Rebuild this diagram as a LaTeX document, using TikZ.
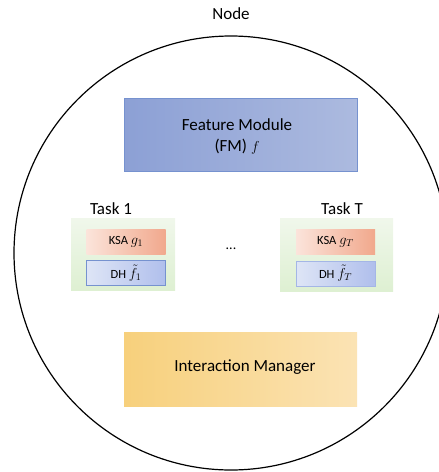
\documentclass[tikz,border=0pt]{standalone}
\usepackage{fontspec}
\setmainfont{Carlito}
\definecolor{fmL}{RGB}{140,160,213}
\definecolor{fmR}{RGB}{172,186,223}
\definecolor{fmB}{RGB}{118,146,207}
\definecolor{imL}{RGB}{247,208,124}
\definecolor{imR}{RGB}{251,227,180}
\definecolor{grT}{RGB}{240,247,235}
\definecolor{grB}{RGB}{222,240,210}
\definecolor{ksL}{RGB}{251,228,219}
\definecolor{ksR}{RGB}{241,168,140}
\definecolor{dhL}{RGB}{222,229,246}
\definecolor{dhR}{RGB}{176,191,236}
\newcommand{\mymath}[1]{{\fontsize{14}{16}\selectfont$#1$}}
\tikzset{
  bigbox/.style={rectangle, inner sep=0pt, font=\fontsize{17}{21}\selectfont, align=center},
  taskbox/.style={rectangle, inner sep=0pt, top color=grT, bottom color=grB, draw=none},
  ksabox/.style={rectangle, inner sep=0pt, left color=ksL, right color=ksR, draw=none, minimum width=79pt, minimum height=25pt, font=\fontsize{12.5}{14}\selectfont},
  dhbox/.style={rectangle, inner sep=0pt, left color=dhL, right color=dhR, draw=fmB, line width=0.6pt, minimum width=79pt, minimum height=25pt, font=\fontsize{12.5}{14}\selectfont},
  lbl/.style={inner sep=0pt, font=\fontsize{17}{21}\selectfont}
}
\begin{document}
\begin{tikzpicture}[x=1pt,y=-1pt]
\useasboundingbox (0,0) rectangle (439,472);
\begin{scope}
\clip (0,0) rectangle (439,472);
\draw[line width=1.2pt] (231,253) circle[radius=217];
\end{scope}
\node[lbl] (nodelbl) at (231,14) {Node};
\node[bigbox, left color=fmL, right color=fmR, draw=fmB, line width=0.8pt, minimum width=233pt, minimum height=73pt] (fm) at (240.5,134.5) {};
\node[lbl, align=center] (fmtext) at (237,136) {Feature Module\\(FM) \mymath{f}};
\node[taskbox, minimum width=104pt, minimum height=72pt] (t1) at (123,254) {};
\node[lbl] (t1lbl) at (111,209) {Task 1};
\node[ksabox] (ksa1) at (126,241.5) {KSA \mymath{g_1}};
\node[dhbox] (dh1) at (126,273) {DH \mymath{\tilde{f}_1}};
\node[inner sep=0pt, font=\fontsize{14}{16}\selectfont] (dots) at (231,249) {...};
\node[taskbox, minimum width=113pt, minimum height=73pt] (tT) at (336.5,254.5) {};
\node[lbl] (tTlbl) at (342,209) {Task T};
\node[ksabox] (ksaT) at (335.5,241.5) {KSA \mymath{g_T}};
\node[dhbox, draw=dhR!80!fmB, line width=0.3pt] (dhT) at (335.5,273.5) {DH \mymath{\tilde{f}_T}};
\node[bigbox, left color=imL, right color=imR, draw=none, minimum width=233pt, minimum height=74pt] (im) at (240.5,369) {};
\node[lbl] (imtext) at (245,367) {Interaction Manager};
\end{tikzpicture}
\end{document}
